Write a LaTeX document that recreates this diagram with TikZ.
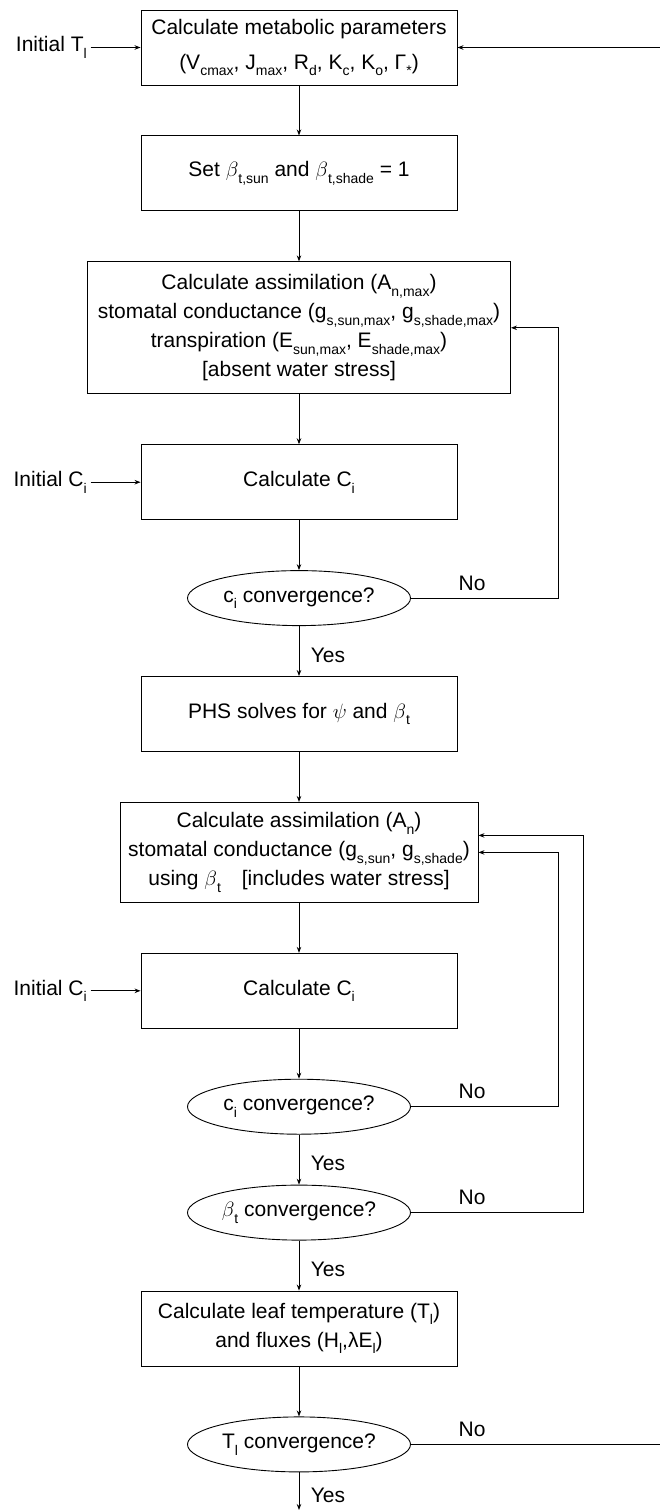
\documentclass[tikz,border=0pt]{standalone}
\usepackage{fontspec}
\setmainfont{Liberation Sans}
\usetikzlibrary{shapes.geometric,arrows.meta,positioning}

\newcommand{\sbs}[1]{\raisebox{-0.32em}{\fontsize{14pt}{14pt}\selectfont #1}}

\begin{document}
\begin{tikzpicture}[%
    >={Stealth[length=6pt,width=4.5pt]}, % Small filled tips
    node distance=50pt,                  % Global gap between boxes
    line width=0.9pt,
    ]
% -------------------------------------------------
% Box and label styles
\tikzset{
  base/.style={draw, align=center, font=\fontsize{21pt}{29pt}\selectfont},
  proc/.style={base, rectangle, minimum width=316pt, minimum height=75pt},
  decide/.style={base, ellipse, minimum width=223pt, minimum height=55pt, inner sep=0pt},
  lbl/.style={font=\fontsize{21pt}{29pt}\selectfont},
  yes/.style={lbl, right, xshift=8pt, yshift=-4pt},
  no/.style={lbl, above right, pos=0, xshift=44pt, yshift=4pt},
}
\useasboundingbox (0,0) rectangle (660pt,-1510pt);
% Loop lines and picture edges
\coordinate (inner) at (558pt,0);
\coordinate (outer) at (583pt,0);
\coordinate (edge) at (660pt,0);
\coordinate (foot) at (0,-1510pt);
% -------------------------------------------------
% Start by placing the nodes
\node [proc] (par) at (299pt,-47.5pt)
  {Calculate metabolic parameters\\[6pt]
   (V\sbs{cmax}, J\sbs{max}, R\sbs{d}, K\sbs{c}, K\sbs{o}, Γ\sbs{*})};
\node [proc, below=of par] (bset)
  {Set $\beta$\sbs{t,sun} and $\beta$\sbs{t,shade} = 1};
\node [proc, below=of bset, minimum width=423pt, minimum height=132pt] (amax)
  {Calculate assimilation (A\sbs{n,max})\\
   stomatal conductance (g\sbs{s,sun,max}, g\sbs{s,shade,max})\\
   transpiration (E\sbs{sun,max}, E\sbs{shade,max})\\
   {[absent water stress]}};
\node [proc, below=of amax] (ci1) {Calculate C\sbs{i}};
\node [decide, below=of ci1] (conv1) {c\sbs{i} convergence?};
\node [proc, below=of conv1] (phs) {PHS solves for $\psi$ and $\beta$\sbs{t}};
\node [proc, below=of phs, minimum width=358pt, minimum height=100pt] (awat)
  {Calculate assimilation (A\sbs{n})\\
   stomatal conductance (g\sbs{s,sun}, g\sbs{s,shade})\\
   using $\beta$\sbs{t}\quad[includes water stress]};
\node [proc, below=of awat] (ci2) {Calculate C\sbs{i}};
\node [decide, below=of ci2] (conv2) {c\sbs{i} convergence?};
\node [decide, below=of conv2] (bconv) {$\beta$\sbs{t} convergence?};
\node [proc, below=of bconv] (leaf)
  {Calculate leaf temperature (T\sbs{l})\\and fluxes (H\sbs{l},λE\sbs{l})};
\node [decide, below=of leaf] (tconv) {T\sbs{l} convergence?};

% Inputs on the left
\node [lbl, left=50pt of par] (tinit) {Initial T\sbs{l}};
\node [lbl, left=50pt of ci1] (cinit1) {Initial C\sbs{i}};
\node [lbl, left=50pt of ci2] (cinit2) {Initial C\sbs{i}};

% -------------------------------------------------
% Main flow
\draw [->] (tinit) -- (par);
\draw [->] (par) -- (bset);
\draw [->] (bset) -- (amax);
\draw [->] (amax) -- (ci1);
\draw [->] (cinit1) -- (ci1);
\draw [->] (ci1) -- (conv1);
\draw [->] (conv1) -- node [yes] {Yes} (phs);
\draw [->] (phs) -- (awat);
\draw [->] (awat) -- (ci2);
\draw [->] (cinit2) -- (ci2);
\draw [->] (ci2) -- (conv2);
\draw [->] (conv2) -- node [yes] {Yes} (bconv);
\draw [->] (bconv) -- node [yes] {Yes} (leaf);
\draw [->] (leaf) -- (tconv);
\draw [->] (tconv) -- node [yes] {Yes} (tconv |- foot);

% Feedback loops
\draw [->] (conv1.east) -- node [no] {No} (conv1.east -| inner) |- (amax.east);
\draw [->] (conv2.east) -- node [no] {No} (conv2.east -| inner) |- (awat.east);
\draw [->] (bconv.east) -- node [no] {No} (bconv.east -| outer)
  |- ([yshift=17pt]awat.east);
\draw (tconv.east) -- node [no] {No} (tconv.east -| edge);
\draw [->] (edge |- par.east) -- (par.east);

% -------------------------------------------------
\end{tikzpicture}
\end{document}
